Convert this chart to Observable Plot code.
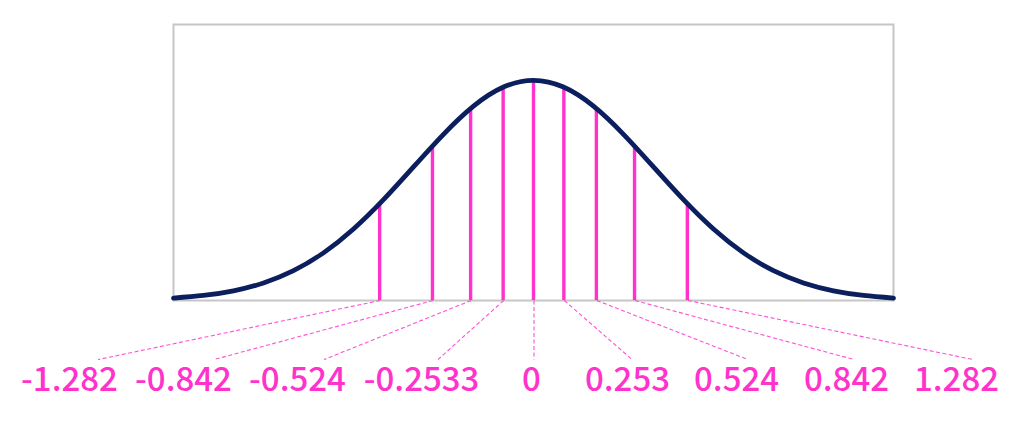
<!DOCTYPE html>
<html>
<head>
<meta charset="utf-8">
<script src="https://cdn.jsdelivr.net/npm/d3@7"></script>
<script src="https://cdn.jsdelivr.net/npm/@observablehq/plot@0.6"></script>
<style>
  html, body { margin: 0; padding: 0; background: #fff; }
  #chart svg { display: block; }
</style>
</head>
<body>
<div id="chart"></div>
<script>
// Curve points (z, density)
const curveX = [-3, -2.75, -2.5, -2.25, -2, -1.75, -1.5, -1.25, -1, -0.75, -0.5, -0.25, 0,
                0.25, 0.5, 0.75, 1, 1.25, 1.5, 1.75, 2, 2.25, 2.5, 2.75, 3];
const curveY = [0.0044, 0.0091, 0.0175, 0.0317, 0.0540, 0.0863, 0.1295, 0.1826, 0.2420, 0.3011, 0.3521, 0.3867, 0.3989,
                0.3867, 0.3521, 0.3011, 0.2420, 0.1826, 0.1295, 0.0863, 0.0540, 0.0317, 0.0175, 0.0091, 0.0044];

// Decile cut points and their heights
const cutX = [-1.282, -0.842, -0.524, -0.253, 0, 0.253, 0.524, 0.842, 1.282];
const cutY = [0.1755, 0.2800, 0.3477, 0.3863, 0.3989, 0.3863, 0.3477, 0.2800, 0.1755];
const tickLabels = ["-1.282", "-0.842", "-0.524", "-0.2533", "0", "0.253", "0.524", "0.842", "1.282"];

// Layout: where each label sits (in x units) and where its leader line ends
const labelPos = [-3.867, -2.917, -1.967, -0.933, -0.017, 0.783, 1.692, 2.608, 3.525];
const leaderEnd = [-3.633, -2.667, -1.75, -0.8, 0, 0.817, 1.783, 2.667, 3.658];
const leaderY = -0.107;
const labelY = -0.145;

const PINK = "#ff33cc";
const NAVY = "#0b1f5e";

const curve = curveX.map((x, i) => ({x, y: curveY[i]}));
const cuts = cutX.map((x, i) => ({x, y: cutY[i], label: tickLabels[i], lx: labelPos[i], ex: leaderEnd[i]}));

const chart = Plot.plot({
  width: 1024,
  height: 421,
  marginLeft: 173,
  marginRight: 131,
  marginTop: 24,
  marginBottom: 121,
  x: {domain: [-3, 3], axis: null},
  y: {domain: [0, 0.5], axis: null},
  marks: [
    Plot.frame({stroke: "#c6c6c6", strokeWidth: 2}),
    Plot.link(cuts, {x1: "x", y1: 0, x2: "ex", y2: leaderY, stroke: PINK, strokeOpacity: 0.85, strokeWidth: 1.1, strokeDasharray: "4,2.5", dx: 0.5}),
    Plot.ruleX(cuts, {x: "x", y1: 0, y2: "y", stroke: PINK, strokeWidth: 3.4}),
    Plot.line(curve, {x: "x", y: "y", curve: "natural", stroke: NAVY, strokeWidth: 4.8}),
    Plot.text(cuts, {x: "lx", y: labelY, text: "label", fill: PINK, fontSize: 33, fontWeight: 500, textAnchor: "middle",
      fontFamily: "'Noto Sans CJK JP', 'Noto Sans', sans-serif"})
  ]
});
document.getElementById("chart").appendChild(chart);
</script>
</body>
</html>
